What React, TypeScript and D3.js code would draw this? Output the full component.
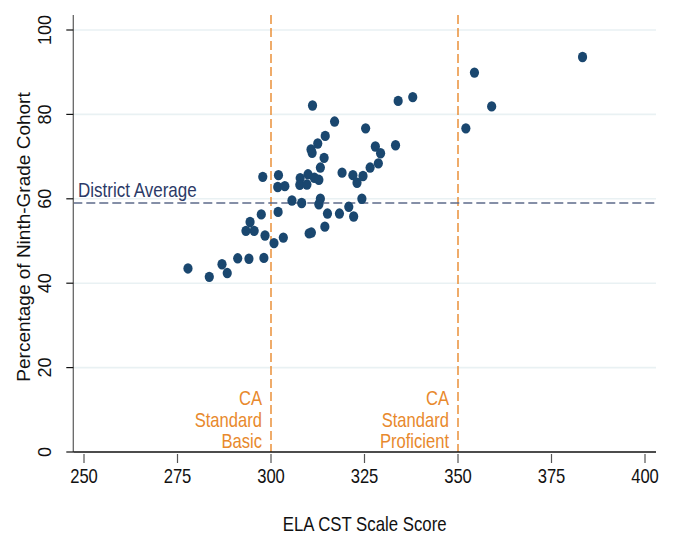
import React from "react";
import * as d3 from "d3";

const scores: number[] = [
  311.1, 334.0, 337.9, 317.0, 325.3, 314.5, 312.5, 310.7, 311.0, 327.9,
  329.3, 333.3, 314.2, 328.7, 326.5, 313.2, 319.0, 321.9, 324.6, 323.0,
  297.8, 302.0, 301.8, 303.7, 307.8, 309.9, 307.7, 309.6, 311.6, 312.8,
  305.6, 308.2, 313.2, 312.8, 324.3, 320.8, 322.1, 318.3, 315.1, 314.4,
  310.2, 310.8, 301.9, 297.4, 294.4, 293.3, 295.5, 298.4, 300.8, 303.3,
  291.1, 294.1, 298.1, 286.9, 288.3, 277.8, 283.5, 383.3, 354.4, 359.0,
  352.1,
];
const percents: number[] = [
  82.1, 83.2, 84.1, 78.3, 76.7, 74.9, 73.1, 71.7, 70.9, 72.4,
  70.8, 72.7, 69.7, 68.4, 67.4, 67.4, 66.2, 65.6, 65.4, 63.8,
  65.2, 65.6, 62.8, 63.0, 64.9, 65.8, 63.3, 63.4, 65.0, 64.5,
  59.6, 59.0, 60.0, 58.7, 60.0, 58.1, 55.8, 56.5, 56.5, 53.4,
  51.8, 52.0, 56.9, 56.3, 54.5, 52.4, 52.4, 51.3, 49.5, 50.8,
  45.9, 45.8, 46.0, 44.5, 42.4, 43.5, 41.5, 93.6, 89.9, 81.9,
  76.7,
];
const xTicks: number[] = [250, 275, 300, 325, 350, 375, 400];
const yTicks: number[] = [0, 20, 40, 60, 80, 100];
const gridValues: number[] = [20, 40, 60, 80, 100];
const districtAverage = 59;
const standards: { score: number; lines: string[] }[] = [
  { score: 300, lines: ["CA", "Standard", "Basic"] },
  { score: 350, lines: ["CA", "Standard", "Proficient"] },
];

const W = 673;
const H = 537;
const NAVY = "#1a476f";
const ORANGE = "#e8892c";
const FONT = "'Liberation Sans', Arial, sans-serif";
const NARROW_SCALE = 0.83;

export default function App() {
  const x = d3.scaleLinear().domain([250, 400]).range([84, 645]);
  const y = d3.scaleLinear().domain([0, 100]).range([452, 30]);
  const left = 73.3;
  const right = 656;
  const top = 15;
  const bottom = y(0);

  const narrow = (tx: number, ty: number) =>
    `translate(${tx},${ty}) scale(${NARROW_SCALE},1)`;

  return (
    <svg
      width={W}
      height={H}
      style={{ position: "absolute", left: 0, top: 0, background: "#fff" }}
    >
      <rect x={0} y={0} width={W} height={H} fill="#fff" />
      {gridValues.map((v) => (
        <line
          key={"g" + v}
          x1={left}
          x2={right}
          y1={y(v)}
          y2={y(v)}
          stroke="#e9f1f3"
          strokeWidth={1.6}
        />
      ))}
      {standards.map((s) => (
        <g key={"s" + s.score}>
          <line
            x1={x(s.score)}
            x2={x(s.score)}
            y1={top}
            y2={bottom}
            stroke={ORANGE}
            strokeWidth={1.4}
            strokeDasharray="9 4"
          />
          {s.lines.map((t, i) => (
            <text
              key={t}
              transform={narrow(x(s.score) - 9, 405 + i * 21.5)}
              textAnchor="end"
              fill={ORANGE}
              fontFamily={FONT}
              fontSize={20}
            >
              {t}
            </text>
          ))}
        </g>
      ))}
      <line
        x1={left}
        x2={right}
        y1={y(districtAverage)}
        y2={y(districtAverage)}
        stroke="#5d6b8a"
        strokeWidth={1.5}
        strokeDasharray="9 4"
      />
      <text
        transform={`translate(78,197) scale(0.85,1)`}
        fill="#2b3a67"
        fontFamily={FONT}
        fontSize={20}
      >
        District Average
      </text>
      {scores.map((s, i) => (
        <ellipse
          key={"p" + i}
          cx={x(s)}
          cy={y(percents[i])}
          rx={4.6}
          ry={5.2}
          fill={NAVY}
        />
      ))}
      <line x1={left} x2={left} y1={top} y2={bottom} stroke="#666" strokeWidth={1.3} />
      <line x1={left} x2={right} y1={bottom} y2={bottom} stroke="#111" strokeWidth={1.5} />
      {yTicks.map((v) => (
        <g key={"yt" + v}>
          <line x1={left - 7} x2={left} y1={y(v)} y2={y(v)} stroke="#111" strokeWidth={1.2} />
          <text
            transform={`translate(${51},${y(v)}) rotate(-90)`}
            textAnchor="middle"
            fontFamily={FONT}
            fontSize={18}
            fill="#111"
          >
            {v}
          </text>
        </g>
      ))}
      {xTicks.map((v) => (
        <g key={"xt" + v}>
          <line x1={x(v)} x2={x(v)} y1={bottom + 2} y2={bottom + 11} stroke="#555" strokeWidth={1.2} />
          <text
            transform={narrow(x(v), 483)}
            textAnchor="middle"
            fontFamily={FONT}
            fontSize={20}
            fill="#111"
          >
            {v}
          </text>
        </g>
      ))}
      <text
        transform={`translate(${(left + right) / 2},531) scale(0.84,1)`}
        textAnchor="middle"
        fontFamily={FONT}
        fontSize={20}
        fill="#111"
      >
        ELA CST Scale Score
      </text>
      <text
        transform={`translate(${30},${237}) rotate(-90)`}
        textAnchor="middle"
        fontFamily={FONT}
        fontSize={19}
        fill="#111"
      >
        Percentage of Ninth-Grade Cohort
      </text>
    </svg>
  );
}
